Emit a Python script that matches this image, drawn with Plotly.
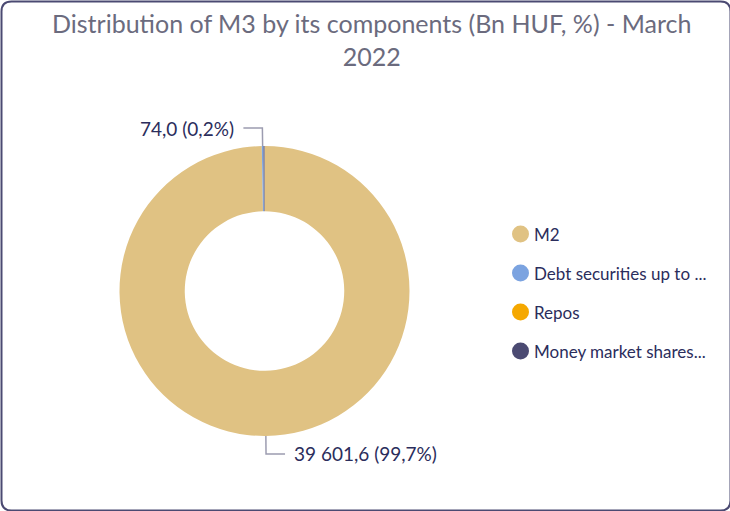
import math
import plotly.graph_objects as go

# ---- data ----
categories = ["M2", "Debt securities up to ...", "Repos", "Money market shares..."]
values = [39601.6, 74.0, 0.0, 45.0]
label_texts = ["39 601,6 (99,7%)", "74,0 (0,2%)", "", ""]
colors = ["#E0C283", "#7BA3E0", "#F5A800", "#4B4A72"]
title_text = "Distribution of M3 by its components (Bn HUF, %) - March<br>2022"

W, H = 730, 511
FONT = "Lato"
TXT = "#2B2D5C"

# pie geometry (pixels)
cx, cy, R = 264.5, 291.0, 145.0
HOLE = 0.55

def px(x):
    return x / W

def py(y):
    return 1 - y / H

fig = go.Figure()
fig.add_trace(go.Pie(
    labels=categories, values=values, sort=False, direction="clockwise",
    rotation=0, hole=HOLE, marker=dict(colors=colors, line=dict(width=0)),
    textinfo="none", hoverinfo="label+value", showlegend=False,
    domain=dict(x=[px(cx - R), px(cx + R)], y=[py(cy + R), py(cy - R)]),
))

shapes = []
annotations = []

# leader lines and labels computed from values
total = sum(values)
cum = 0.0
L1, L2, GAP = 18, 19, 7
for v, t in zip(values, label_texts):
    mid = (cum + v / 2) / total * 2 * math.pi
    cum += v
    if not t:
        continue
    sx = cx + R * math.sin(mid)
    sy = cy - R * math.cos(mid)
    ex = cx + (R + L1) * math.sin(mid)
    ey = cy - (R + L1) * math.cos(mid)
    side = 1 if math.sin(mid) >= 0 else -1
    hx = ex + side * L2
    shapes.append(dict(
        type="path", xref="paper", yref="paper",
        path=f"M {px(sx)} {py(sy)} L {px(ex)} {py(ey)} L {px(hx)} {py(ey)}",
        line=dict(color="#9C9CB0", width=1.5),
    ))
    annotations.append(dict(
        x=px(hx + side * GAP), y=py(ey), xref="paper", yref="paper",
        text=t, showarrow=False, xanchor="left" if side > 0 else "right",
        yanchor="middle", font=dict(family=FONT, size=19, color=TXT),
    ))

# legend (circle markers)
LX, LY0, LDY, LR = 520.5, 234.0, 39.0, 8.5
for i, (c, col) in enumerate(zip(categories, colors)):
    yy = LY0 + i * LDY
    shapes.append(dict(
        type="circle", xref="paper", yref="paper",
        x0=px(LX - LR), x1=px(LX + LR), y0=py(yy + LR), y1=py(yy - LR),
        fillcolor=col, line=dict(width=0),
    ))
    annotations.append(dict(
        x=px(LX + LR + 3), y=py(yy), xref="paper", yref="paper",
        text=c, showarrow=False, xanchor="left", yanchor="middle",
        font=dict(family=FONT, size=17, color=TXT),
    ))

# title
annotations.append(dict(
    x=px(371), y=py(6), xref="paper", yref="paper", text=title_text,
    showarrow=False, xanchor="center", yanchor="top", align="center",
    font=dict(family=FONT, size=25, color="#6B6B7E"),
))

# rounded frame
r = 10
x0, y0, x1, y1 = 1.5, 1.5, 730.5, 510.5
frame = (f"M {px(x0 + r)} {py(y0)} L {px(x1 - r)} {py(y0)} "
         f"Q {px(x1)} {py(y0)} {px(x1)} {py(y0 + r)} L {px(x1)} {py(y1 - r)} "
         f"Q {px(x1)} {py(y1)} {px(x1 - r)} {py(y1)} L {px(x0 + r)} {py(y1)} "
         f"Q {px(x0)} {py(y1)} {px(x0)} {py(y1 - r)} L {px(x0)} {py(y0 + r)} "
         f"Q {px(x0)} {py(y0)} {px(x0 + r)} {py(y0)} Z")
shapes.append(dict(type="path", xref="paper", yref="paper", path=frame,
                   line=dict(color="#4B4A72", width=2), layer="above"))

fig.update_layout(
    width=W, height=H,
    margin=dict(l=0, r=0, t=0, b=0),
    paper_bgcolor="white", plot_bgcolor="white",
    showlegend=False,
    shapes=shapes, annotations=annotations,
)

fig.write_html(
    "out.html",
    config={"displayModeBar": False},
    post_script="document.body.style.margin='0';document.body.style.overflow='hidden';",
)
